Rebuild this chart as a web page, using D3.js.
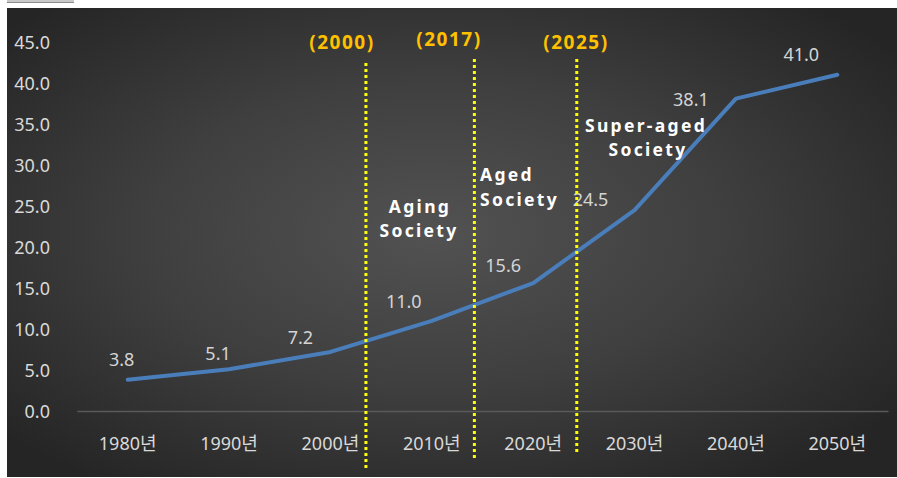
<!DOCTYPE html>
<html>
<head>
<meta charset="utf-8">
<script src="https://cdn.jsdelivr.net/npm/d3@7"></script>
<style>
html,body{margin:0;padding:0;background:#fff;}
svg{display:block;}
</style>
</head>
<body>
<svg id="chart" width="897" height="478"></svg>
<script>
// ---- data ----
const categories = ["1980년","1990년","2000년","2010년","2020년","2030년","2040년","2050년"];
const values = [3.8, 5.1, 7.2, 11.0, 15.6, 24.5, 38.1, 41.0];
const yTicks = [0,5,10,15,20,25,30,35,40,45];
const markerLabels = ["(2000)","(2017)","(2025)"];
const markerIndex = [2.35, 3.42, 4.43]; // fractional category position
const stageLabels = [["Aging","Society"],["Aged","Society"],["Super-aged","Society"]];

// ---- layout ----
const svg = d3.select("#chart");
const defs = svg.append("defs");
const grad = defs.append("radialGradient").attr("id","bg")
  .attr("cx","48%").attr("cy","48%").attr("r","65%");
grad.append("stop").attr("offset","0%").attr("stop-color","#525252");
grad.append("stop").attr("offset","50%").attr("stop-color","#3f3f3f");
grad.append("stop").attr("offset","100%").attr("stop-color","#252525");

svg.append("rect").attr("x",7).attr("y",0).attr("width",67).attr("height",2).attr("fill","#c8c8c8");
svg.append("rect").attr("x",7).attr("y",2).attr("width",67).attr("height",1).attr("fill","#8a8a8a");
svg.append("rect").attr("x",7).attr("y",8).attr("width",890).attr("height",469).attr("fill","url(#bg)");

const x0 = 77, x1 = 888;
const x = d3.scaleBand().domain(categories).range([x0, x1]).paddingInner(0).paddingOuter(0);
const y = d3.scaleLinear().domain([0,45]).range([411, 42]);
const cx = i => x(categories[0]) + x.bandwidth()/2 + i * x.step();

const font = "'Noto Sans','Noto Sans CJK KR',sans-serif";
const boldFont = "'Noto Sans','Open Sans',sans-serif";

// y axis labels
const yAxis = d3.axisLeft(y).tickValues(yTicks).tickFormat(d3.format(".1f")).tickSize(0);
const gy = svg.append("g").attr("transform","translate(50,0)").call(yAxis);
gy.select(".domain").remove();
gy.selectAll("text").attr("fill","#d9d9d9").style("font-family",font).style("font-size","18px")
  .attr("x",0).attr("text-anchor","end").attr("dy","0.35em");

// x axis
const xAxis = d3.axisBottom(x).tickSize(0).tickPadding(0);
const gx = svg.append("g").attr("transform","translate(0,411)").call(xAxis);
gx.select(".domain").attr("stroke","#5a5a5a").attr("stroke-width",1.5);
gx.selectAll("text").attr("fill","#d9d9d9").style("font-family",font).style("font-size","18px")
  .attr("y",33).attr("dy","0.35em");

// line
const line = d3.line().x((d,i)=>cx(i)).y(d=>y(d));
svg.append("path").datum(values).attr("d",line).attr("fill","none")
  .attr("stroke","#4a7ebb").attr("stroke-width",4).attr("stroke-linejoin","round").attr("stroke-linecap","round");

// data labels
const labelOff = [[-6,-20],[-11,-15],[-30,-14],[-28,-19],[-30,-17],[-44,-10],[-45,1],[-36,-20]];
svg.append("g").selectAll("text").data(values).join("text")
  .attr("x",(d,i)=>cx(i)+labelOff[i][0]).attr("y",(d,i)=>y(d)+labelOff[i][1])
  .attr("dy","0.35em").attr("text-anchor","middle")
  .attr("fill","#d4d4d4").style("font-family",font).style("font-size","18px")
  .text(d=>d3.format(".1f")(d));

// markers
const markerTop = [63, 59, 59];
const markerBottom = [470, 460, 452];
const mg = svg.append("g");
markerIndex.forEach((m,i)=>{
  const mx = cx(m);
  mg.append("line").attr("x1",mx).attr("x2",mx).attr("y1",markerTop[i]).attr("y2",markerBottom[i])
    .attr("stroke","#ffff00").attr("stroke-width",3).attr("stroke-dasharray","3,3");
});
const markerLabelPos = [[342,42],[449,39],[576,42]];
mg.selectAll("text.ml").data(markerLabels).join("text").attr("class","ml")
  .attr("x",(d,i)=>markerLabelPos[i][0]).attr("y",(d,i)=>markerLabelPos[i][1])
  .attr("dy","0.35em").attr("text-anchor","middle")
  .attr("fill","#ffc000").style("font-family",boldFont).style("font-size","19px").style("font-weight","bold")
  .style("letter-spacing","1.5px")
  .text(d=>d);

// stage labels
const stagePos = [
  [[420,207,"middle"],[419,231,"middle"]],
  [[480,175,"start"],[480,200,"start"]],
  [[585,126,"start"],[648,150,"middle"]]
];
stageLabels.forEach((lines,i)=>{
  lines.forEach((t,j)=>{
    svg.append("text").attr("x",stagePos[i][j][0]).attr("y",stagePos[i][j][1])
      .attr("dy","0.35em").attr("text-anchor",stagePos[i][j][2])
      .attr("fill","#ffffff").style("font-family",boldFont).style("font-size","17.5px").style("font-weight","bold")
      .style("letter-spacing","2.3px")
      .text(t);
  });
});
</script>
</body>
</html>
